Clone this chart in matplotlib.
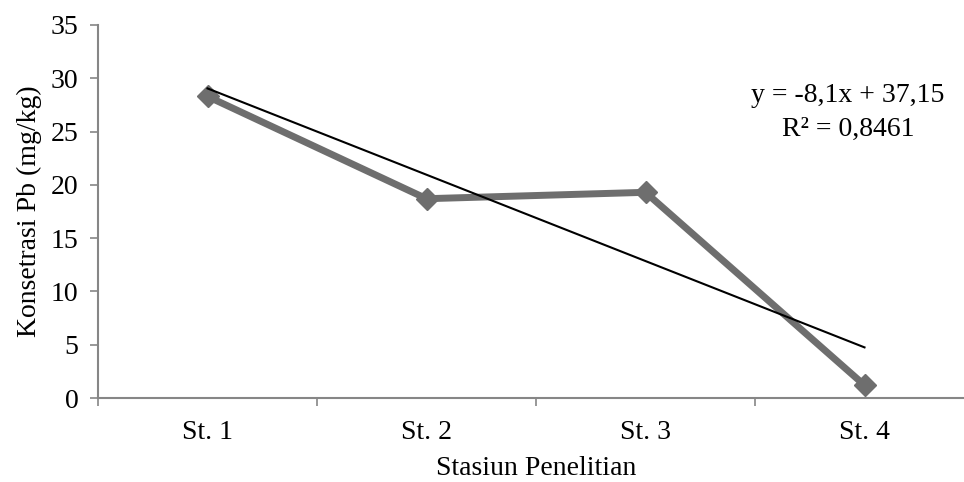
import matplotlib.pyplot as plt
import numpy as np

plt.rcParams['font.family'] = ['Liberation Serif', 'DejaVu Serif']

stasiun = ['St. 1', 'St. 2', 'St. 3', 'St. 4']
pb = [28.3, 18.7, 19.3, 1.2]
slope = -8.1
intercept = 37.15
eq_text = 'y = -8,1x + 37,15'
r2_text = 'R² = 0,8461'

fig = plt.figure(figsize=(9.64, 4.82), dpi=100)
ax = fig.add_axes([98 / 964, 84 / 482, 876 / 964, 373 / 482])

x = np.arange(1, len(stasiun) + 1)
ax.plot(x, pb, color='#6e6e6e', lw=5, marker='D', markersize=11,
        markeredgecolor='#6e6e6e', zorder=3)

# garis tren linear
xt = np.array([x[0], x[-1]])
ax.plot(xt, slope * xt + intercept, color='black', lw=1.5, zorder=4)

ax.set_xlim(0.5, 4.5)
ax.set_ylim(0, 35)
ax.set_yticks(range(0, 36, 5))
ax.set_xticks(x)
ax.set_xticklabels(stasiun)
ax.set_xticks(np.arange(0.5, 5, 1), minor=True)
ax.tick_params(axis='x', which='major', length=0, pad=16, labelsize=20)
ax.tick_params(axis='x', which='minor', length=6, color='#868686', width=1.2)
ax.tick_params(axis='y', length=6, color='#868686', width=1.2, labelsize=20, pad=8)

for s in ['top', 'right']:
    ax.spines[s].set_visible(False)
for s in ['left', 'bottom']:
    ax.spines[s].set_color('#868686')
    ax.spines[s].set_linewidth(1.5)

ax.set_xlabel('Stasiun Penelitian', fontsize=20, labelpad=8)
ax.set_ylabel('Konsetrasi Pb (mg/kg)', fontsize=20, labelpad=6)

fig.text(848 / 964, 1 - 96 / 482, eq_text, ha='center', va='center', fontsize=20)
fig.text(848 / 964, 1 - 129 / 482, r2_text, ha='center', va='center', fontsize=20)

fig.savefig('out.png', dpi=100)
